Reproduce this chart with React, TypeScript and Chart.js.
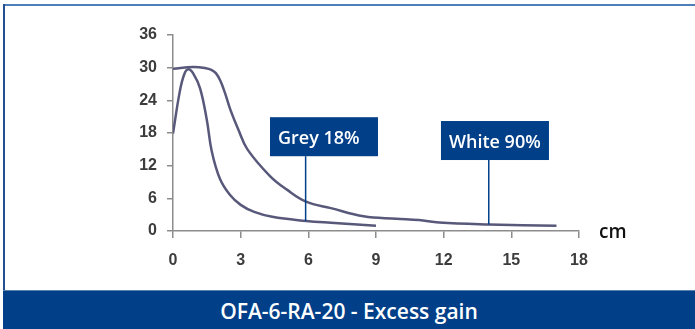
import React, { useEffect, useRef } from "react";
import { Chart, registerables } from "chart.js";

Chart.register(...registerables);

// ---- data ----
const greyX = [0, 0.3, 0.5, 0.68, 0.9, 1.2, 1.5, 1.72, 2.08, 2.53, 3.0, 3.6, 4.4, 5.9, 7.0, 9.0];
const greyY = [17.9, 25.6, 28.8, 29.7, 28.9, 26.2, 20.4, 14.6, 9.6, 6.6, 4.8, 3.5, 2.6, 1.85, 1.5, 0.95];

const whiteX = [0, 0.9, 1.45, 1.7, 1.9, 2.1, 2.3, 2.55, 2.9, 3.3, 4.3, 5.05, 5.9, 7.0, 8.45, 9.9, 10.9, 11.8, 14.0, 17.0];
const whiteY = [29.8, 30.1, 29.9, 29.6, 29.0, 27.6, 25.4, 22.2, 18.6, 15.0, 10.1, 7.6, 5.4, 4.2, 2.7, 2.25, 2.0, 1.55, 1.2, 0.95];

const xMin = 0;
const xMax = 18;
const xStep = 3;
const yMin = 0;
const yMax = 36;
const yStep = 6;

const calloutLabels = ["Grey 18%", "White 90%"];
const calloutAnchorX = [5.88, 14.0];
const calloutAnchorY = [1.85, 1.2];
const calloutBoxX = [4.3, 11.88];
const calloutBoxY = [20.9, 20.2];

const unitLabel = "cm";
const title = "OFA-6-RA-20 - Excess gain";

const NAVY = "#013f89";
const CURVE = "#58587a";
const AXIS = "#8c8c8c";

const calloutPlugin = {
  id: "callouts",
  afterDraw(chart: any) {
    const ctx = chart.ctx;
    const xs = chart.scales.x;
    const ys = chart.scales.y;
    const area = chart.chartArea;
    const boxW = 108;
    const boxH = 39;
    ctx.save();
    for (let i = 0; i < calloutLabels.length; i++) {
      const bx = xs.getPixelForValue(calloutBoxX[i]);
      const by = ys.getPixelForValue(calloutBoxY[i]);
      const ax = xs.getPixelForValue(calloutAnchorX[i]);
      const ay = ys.getPixelForValue(calloutAnchorY[i]);
      ctx.strokeStyle = NAVY;
      ctx.lineWidth = 1.5;
      ctx.beginPath();
      ctx.moveTo(ax, by + boxH);
      ctx.lineTo(ax, ay);
      ctx.stroke();
      ctx.fillStyle = NAVY;
      ctx.fillRect(bx, by, boxW, boxH);
      ctx.fillStyle = "#ffffff";
      ctx.font = "600 18px 'Open Sans'";
      ctx.textAlign = "left";
      ctx.textBaseline = "alphabetic";
      ctx.fillText(calloutLabels[i], bx + 8, by + 27);
    }
    ctx.fillStyle = "#111111";
    ctx.font = "600 19px 'Open Sans'";
    ctx.textAlign = "left";
    ctx.textBaseline = "alphabetic";
    ctx.fillText(unitLabel, area.right + 20, area.bottom + 7);
    ctx.restore();
  },
};

export default function App() {
  const canvasRef = useRef<HTMLCanvasElement | null>(null);

  useEffect(() => {
    if (!canvasRef.current) return;
    const chart = new Chart(canvasRef.current, {
      type: "line",
      data: {
        datasets: [
          {
            label: "Grey 18%",
            data: greyX.map((x, i) => ({ x, y: greyY[i] })),
            borderColor: CURVE,
            borderWidth: 2.5,
            pointRadius: 0,
            tension: 0.4,
            fill: false,
          },
          {
            label: "White 90%",
            data: whiteX.map((x, i) => ({ x, y: whiteY[i] })),
            borderColor: CURVE,
            borderWidth: 2.5,
            pointRadius: 0,
            tension: 0.4,
            fill: false,
          },
        ],
      },
      options: {
        responsive: false,
        animation: false,
        layout: { padding: { top: 35, right: 116, bottom: 0, left: 0 } },
        plugins: {
          legend: { display: false },
          tooltip: { enabled: false },
          title: { display: false },
        },
        scales: {
          x: {
            type: "linear",
            min: xMin,
            max: xMax,
            afterFit: (s: any) => {
              s.height = 98;
            },
            ticks: {
              stepSize: xStep,
              color: "#3c3c3c",
              font: { family: "'Liberation Sans', Arial", size: 16, weight: "bold" },
              padding: 13,
              maxRotation: 0,
            },
            grid: {
              drawOnChartArea: false,
              drawTicks: true,
              tickLength: 7,
              color: AXIS,
              lineWidth: 1.5,
            },
            border: { display: true, color: AXIS, width: 1.5 },
          },
          y: {
            type: "linear",
            min: yMin,
            max: yMax,
            afterFit: (s: any) => {
              s.width = 173;
            },
            ticks: {
              stepSize: yStep,
              color: "#3c3c3c",
              font: { family: "'Liberation Sans', Arial", size: 16, weight: "bold" },
              padding: 10,
            },
            grid: {
              drawOnChartArea: false,
              drawTicks: true,
              tickLength: 6,
              color: AXIS,
              lineWidth: 1.5,
            },
            border: { display: true, color: AXIS, width: 1.5 },
          },
        },
      },
      plugins: [calloutPlugin],
    } as any);
    return () => chart.destroy();
  }, []);

  return (
    <div style={{ position: "absolute", left: 0, top: 0, width: 695, height: 329, background: "#ffffff", overflow: "hidden" }}>
      <div style={{ position: "absolute", left: 3, top: 4, width: 692, height: 2, background: "#4f7fb8" }} />
      <div style={{ position: "absolute", left: 3, top: 4, width: 2, height: 286, background: "#24508f" }} />
      <div
        style={{
          position: "absolute",
          left: 3,
          top: 290,
          width: 692,
          height: 39,
          background: NAVY,
          borderTop: "1px solid #5a80b0",
          boxSizing: "border-box",
          paddingTop: 2,
          color: "#ffffff",
          fontFamily: "'Open Sans', sans-serif",
          fontWeight: 600,
          fontSize: 21,
          lineHeight: "36px",
          textAlign: "center",
          whiteSpace: "nowrap",
        }}
      >
        {title}
      </div>
      <canvas ref={canvasRef} width={695} height={329} style={{ position: "absolute", left: 0, top: 0, width: 695, height: 329 }} />
    </div>
  );
}
